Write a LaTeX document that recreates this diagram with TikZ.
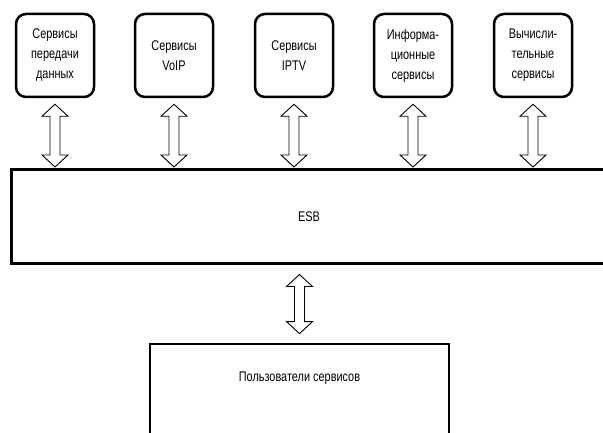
\documentclass[tikz,border=0pt]{standalone}
\usepackage{fontspec}
\setmainfont{Liberation Sans}[FakeStretch=0.78]
\usetikzlibrary{calc}
\tikzset{
  svcbox/.style={draw, line width=2.5pt, rounded corners=10pt, minimum width=78pt, minimum height=83pt, align=center, inner sep=0pt},
  busbox/.style={draw, line width=3pt, minimum width=596pt, minimum height=93pt, inner sep=0pt},
  userbox/.style={draw, line width=2.8pt, minimum width=299pt, minimum height=140pt, inner sep=0pt},
  harrow/.style={draw, line width=0.9pt, fill=white, line join=miter},
  lbl/.style={font=\fontsize{14}{20}\selectfont, align=center}
}
\newcommand{\dblarrow}[2]{%
  \draw[harrow] let \p1=(#1), \p2=(#2) in
    (\x1,\y1) -- (\x1-13pt,\y1-12pt) -- (\x1-5pt,\y1-12pt) -- (\x1-5pt,\y2+12pt)
    -- (\x1-13pt,\y2+12pt) -- (\x1,\y2) -- (\x1+13pt,\y2+12pt) -- (\x1+5pt,\y2+12pt)
    -- (\x1+5pt,\y1-12pt) -- (\x1+13pt,\y1-12pt) -- cycle;}
\begin{document}
\begin{tikzpicture}[x=1pt,y=-1pt]
\useasboundingbox[fill=white] (0,0) rectangle (603,433);
\begin{scope}
\clip (0,0) rectangle (603,433);
\node[svcbox, lbl] (s1) at (55,55.5) {Сервисы\\передачи\\данных};
\node[svcbox, lbl] (s2) at (174,55.5) {Сервисы\\VoIP};
\node[svcbox, lbl] (s3) at (294,55.5) {Сервисы\\IPTV};
\node[svcbox, lbl] (s4) at (413,55.5) {Информа-\\ционные\\сервисы};
\node[svcbox, lbl] (s5) at (533,55.5) {Вычисли-\\тельные\\сервисы};
\node[busbox, lbl] (esb) at (309,216.5) {ESB};
\node[userbox] (users) at (299.5,414) {};
\node[lbl] (userslbl) at ($(users.north)+(0,36)$) {Пользователи сервисов};
\foreach \i in {1,...,5} {
  \dblarrow{$(s\i.south)+(0,6)$}{$(s\i.south |- esb.north)+(0,-1.5)$}
}
\dblarrow{$(esb.south -| users.north)+(0,10)$}{$(users.north)+(0,-9)$}
\end{scope}
\end{tikzpicture}
\end{document}
